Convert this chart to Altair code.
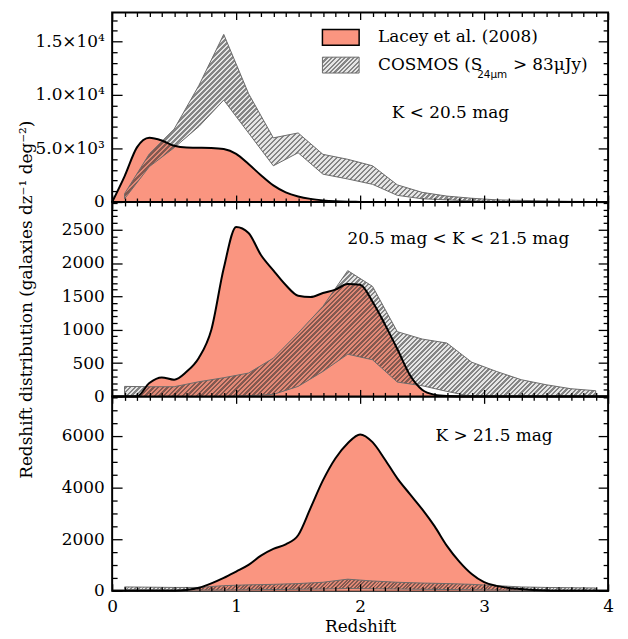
import math
import pandas as pd
import altair as alt

FONT = "DejaVu Serif"
SALMON = "#FA9580"
BAND_EDGE = "#6a6a6a"
HATCH_ON = "rgba(45,45,45,0.58)"
HATCH_OFF = "rgba(45,45,45,0.12)"

# ---------------- data ----------------
Z_LACEY = [0.0, 0.1, 0.2, 0.3, 0.4, 0.5, 0.6, 0.7, 0.8, 0.9,
           1.0, 1.1, 1.2, 1.3, 1.4, 1.5, 1.6, 1.7, 1.8, 1.9,
           2.0, 2.1, 2.2, 2.3, 2.4, 2.5, 2.6, 2.7, 2.8, 2.9,
           3.0, 3.1, 3.2, 3.3, 3.4, 3.5, 3.6, 3.7, 3.8, 3.9, 4.0]
Z_COSMOS = [0.1, 0.3, 0.5, 0.7, 0.9, 1.1, 1.3, 1.5, 1.7, 1.9,
            2.1, 2.3, 2.5, 2.7, 2.9, 3.1, 3.3, 3.5, 3.7, 3.9]

LACEY_BRIGHT = [0, 2400, 5100, 6000, 5750, 5250, 5080, 5070, 5050, 4950,
                4500, 3550, 2500, 1550, 900, 520, 290, 150, 70, 30,
                10, 0, 0, 0, 0, 0, 0, 0, 0, 0,
                0, 0, 0, 0, 0, 0, 0, 0, 0, 0, 0]
LACEY_MID = [0, 0, 0, 200, 285, 250, 370, 580, 1000, 1920,
             2540, 2450, 2120, 1890, 1670, 1510, 1490, 1550, 1600, 1685,
             1675, 1420, 1080, 710, 325, 100, 25, 5, 0, 0,
             0, 0, 0, 0, 0, 0, 0, 0, 0, 0, 0]
LACEY_FAINT = [0, 0, 0, 0, 0, 0, 30, 120, 290, 500,
               745, 1000, 1360, 1620, 1800, 2150, 3200, 4270, 5120, 5710,
               6050, 5750, 5080, 4350, 3750, 3160, 2500, 1740, 1130, 650,
               335, 190, 110, 70, 35, 15, 5, 0, 0, 0, 0]

COS_BRIGHT_HI = [770, 4500, 6815, 10900, 15660, 10130, 5990, 6450, 4450, 3990,
                 3380, 1600, 900, 550, 350, 200, 150, 100, 60, 40]
COS_BRIGHT_LO = [300, 3300, 5070, 7060, 9520, 6450, 3380, 4600, 2600, 2150,
                 1650, 620, 300, 200, 100, 50, 30, 20, 10, 5]
COS_MID_HI = [150, 145, 145, 220, 280, 350, 573, 950, 1350, 1886,
              1650, 970, 860, 800, 513, 374, 250, 175, 115, 85]
COS_MID_LO = [0, 0, 0, 0, 0, 10, 30, 150, 374, 633,
              549, 215, 160, 75, 0, 0, 0, 0, 0, 0]
COS_FAINT_HI = [150, 140, 130, 130, 200, 230, 250, 280, 330, 450,
                380, 330, 300, 280, 250, 200, 150, 130, 120, 110]
COS_FAINT_LO = [40, 40, 30, 30, 30, 40, 50, 60, 70, 90,
                80, 70, 60, 50, 40, 30, 20, 20, 15, 10]

X_MAJOR = [0, 1, 2, 3, 4]
X_MINOR = [round(i / 10, 1) for i in range(1, 40) if i % 10]
Y_BRIGHT_MAJOR = [0, 5000, 10000, 15000]
Y_BRIGHT_MINOR = [v for v in range(1000, 17001, 1000) if v % 5000]
Y_MID_MAJOR = [0, 500, 1000, 1500, 2000, 2500]
Y_MID_MINOR = [v for v in range(100, 2901, 100) if v % 500]
Y_FAINT_MAJOR = [0, 2000, 4000, 6000]
Y_FAINT_MINOR = [v for v in range(500, 7501, 500) if v % 2000]

BRIGHT_LABELS = ("datum.value === 0 ? '0' : datum.value === 5000 ? '5.0×10³' : "
                 "datum.value === 10000 ? '1.0×10⁴' : '1.5×10⁴'")

WIDTH = 500


def hatch(width_px, height_px, n=128, frac=0.5):
    W = max(width_px, 1.0)
    H = max(height_px, 1.0)
    r = H / W
    dx = (1 + r) / (1 + r * r)
    dy = r * dx
    stops = []
    for i in range(n):
        a, b, c = i / n, (i + frac) / n, (i + 1) / n
        stops += [alt.GradientStop(offset=a, color=HATCH_ON),
                  alt.GradientStop(offset=b, color=HATCH_ON),
                  alt.GradientStop(offset=b, color=HATCH_OFF),
                  alt.GradientStop(offset=c, color=HATCH_OFF)]
    return alt.LinearGradient(gradient="linear", stops=stops, x1=0, y1=0, x2=dx, y2=dy)


def tick_axis(orient, values, size, labels=False, **extra):
    opts = dict(orient=orient, values=values, offset=-size, tickSize=size,
                tickWidth=1.3, tickColor="black", domain=False, grid=False,
                labels=labels, zindex=1, minExtent=0)
    if "title" not in extra:
        opts["title"] = None
    opts.update(extra)
    return alt.Axis(**opts)


def text_layer(text, x, y, size=17, align="left", font=FONT):
    return alt.Chart(pd.DataFrame({"t": [text]})).mark_text(
        font=font, fontSize=size, align=align, baseline="middle", color="black"
    ).encode(x=alt.value(x), y=alt.value(y), text="t:N")


def make_panel(lacey, hi, lo, ymax, height, ymaj, ymin, left_extra, bottom_extra,
               extra_layers):
    xs = alt.Scale(domain=[0, 4], nice=False, zero=False)
    ys = alt.Scale(domain=[0, ymax], nice=False, zero=False)
    lac = pd.DataFrame({"z": Z_LACEY, "n": lacey})
    cos = pd.DataFrame({"z": Z_COSMOS, "hi": hi, "lo": lo})

    band_w = (max(Z_COSMOS) - min(Z_COSMOS)) / 4 * WIDTH
    band_h = (max(hi) - min(lo)) / ymax * height

    area = alt.Chart(lac).mark_area(color=SALMON, opacity=1, interpolate="monotone").encode(
        x=alt.X("z:Q", scale=xs,
                axis=tick_axis("bottom", X_MAJOR, 7, **bottom_extra)),
        y=alt.Y("n:Q", scale=ys,
                axis=tick_axis("left", ymaj, 10, labels=True, labelPadding=8, **left_extra)),
    )
    band = alt.Chart(cos).mark_area(
        fill=hatch(band_w, band_h), stroke=BAND_EDGE, strokeWidth=1
    ).encode(
        x=alt.X("z:Q", scale=xs, axis=tick_axis("bottom", X_MINOR, 4)),
        y=alt.Y("hi:Q", scale=ys, axis=tick_axis("left", ymin, 5)),
        y2="lo:Q",
    )
    line = alt.Chart(lac).mark_line(color="black", strokeWidth=2, interpolate="monotone").encode(
        x=alt.X("z:Q", scale=xs, axis=tick_axis("top", X_MAJOR, 7)),
        y=alt.Y("n:Q", scale=ys, axis=tick_axis("right", ymaj, 10)),
    )
    ghost = alt.Chart(cos).mark_point(opacity=0).encode(
        x=alt.X("z:Q", scale=xs, axis=tick_axis("top", X_MINOR, 4)),
        y=alt.Y("hi:Q", scale=ys, axis=tick_axis("right", ymin, 5)),
    )
    return alt.layer(area, band, line, ghost, *extra_layers).resolve_axis(
        x="independent", y="independent"
    ).properties(width=WIDTH, height=height)


# legend (panel 1)
legend_salmon = alt.Chart(pd.DataFrame({"k": [0]})).mark_rect(
    fill=SALMON, stroke="black", strokeWidth=1.5
).encode(x=alt.value(212), x2=alt.value(249), y=alt.value(17), y2=alt.value(33))
legend_hatch = alt.Chart(pd.DataFrame({"k": [0]})).mark_rect(
    fill=hatch(37, 16, n=12), stroke=BAND_EDGE, strokeWidth=1
).encode(x=alt.value(212), x2=alt.value(249), y=alt.value(45), y2=alt.value(61))

p1 = make_panel(
    LACEY_BRIGHT, COS_BRIGHT_HI, COS_BRIGHT_LO, 17700, 191,
    Y_BRIGHT_MAJOR, Y_BRIGHT_MINOR,
    dict(labelExpr=BRIGHT_LABELS), dict(),
    [legend_salmon, legend_hatch,
     text_layer("Lacey et al. (2008)", 268, 25),
     text_layer("COSMOS (S", 268, 53),
     text_layer("24μm", 368, 63, size=10.5, font="DejaVu Sans"),
     text_layer("> 83μJy)", 404, 53),
     text_layer("K < 20.5 mag", 341, 101, align="center")],
)
p2 = make_panel(
    LACEY_MID, COS_MID_HI, COS_MID_LO, 2915, 196,
    Y_MID_MAJOR, Y_MID_MINOR,
    dict(format="d", title="Redshift distribution (galaxies dz⁻¹ deg⁻²)", titlePadding=26),
    dict(),
    [text_layer("20.5 mag < K < 21.5 mag", 349, 37, align="center")],
)
p3 = make_panel(
    LACEY_FAINT, COS_FAINT_HI, COS_FAINT_LO, 7520, 196,
    Y_FAINT_MAJOR, Y_FAINT_MINOR,
    dict(format="d"),
    dict(labels=True, labelPadding=8, labelFlush=False, title="Redshift", titlePadding=4),
    [text_layer("K > 21.5 mag", 385, 40, align="center")],
)

chart = alt.vconcat(p1, p2, p3, spacing=0, bounds="flush").properties(
    padding={"left": 8, "top": 0, "right": 5, "bottom": 0}
).configure_view(
    stroke="black", strokeWidth=2
).configure_axis(
    labelFont=FONT, labelFontSize=17, labelColor="black",
    titleFont=FONT, titleFontSize=17, titleFontWeight="normal", titleColor="black",
)

chart.save("out.html", embed_options={"renderer": "svg", "actions": False})
